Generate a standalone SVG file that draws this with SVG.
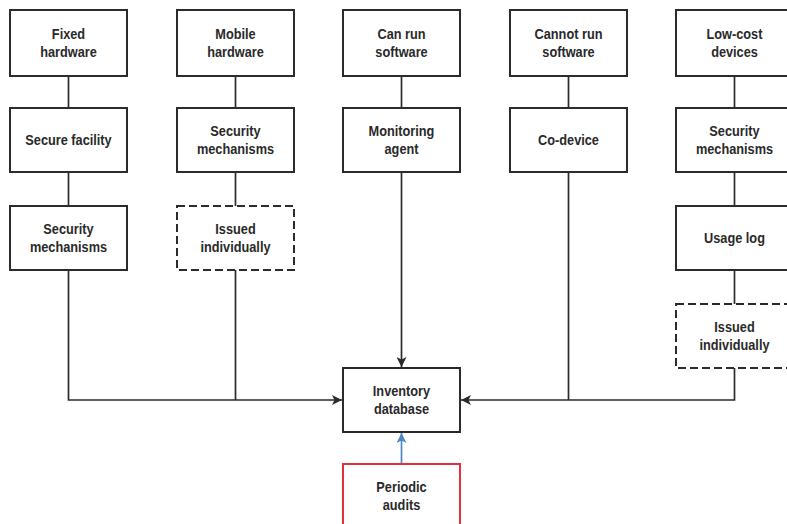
<svg xmlns="http://www.w3.org/2000/svg" width="787" height="524" viewBox="0 0 787 524">
<style>
.box{fill:#fff;stroke:#2b2b2b;stroke-width:2}
.dash{stroke-dasharray:8 4}
.red{stroke:#e0303c}
.t{font-family:"Liberation Sans",Arial,sans-serif;font-weight:bold;font-size:15px;fill:#2a2a2a;text-anchor:middle}
.c{fill:none;stroke:#2b2b2b;stroke-width:1.7}
.b{fill:none;stroke:#4a86c8;stroke-width:1.7}
</style>
<defs>
<marker id="ah" markerUnits="userSpaceOnUse" markerWidth="11" markerHeight="10" viewBox="0 0 11 10" refX="10" refY="5" orient="auto">
<path d="M0,0 L10,5 L0,10 L2.5,5 Z" fill="#2b2b2b"/>
</marker>
<marker id="ahb" markerUnits="userSpaceOnUse" markerWidth="11" markerHeight="10" viewBox="0 0 11 10" refX="10" refY="5" orient="auto">
<path d="M0,0 L10,5 L0,10 L2.5,5 Z" fill="#4a86c8"/>
</marker>
</defs>
<g id="connectors">
<path class="c" d="M68.5,76V108M68.5,172V206"/>
<path class="c" d="M68.5,270V400H342" marker-end="url(#ah)"/>
<path class="c" d="M235.5,76V108M235.5,172V206M235.5,270V400"/>
<path class="c" d="M401.5,76V108"/>
<path class="c" d="M401.5,172V367" marker-end="url(#ah)"/>
<path class="c" d="M568.5,76V108M568.5,172V400"/>
<path class="c" d="M734.5,76V108M734.5,172V206M734.5,270V304"/>
<path class="c" d="M734.5,368V400H461" marker-end="url(#ah)"/>
<path class="b" d="M401.5,464V433" marker-end="url(#ahb)"/>
</g>
<g id="fixed-hardware"><rect class="box" x="10" y="10" width="117" height="66"/><g transform="translate(68.5,0) scale(.85,1)"><text class="t" x="0" y="39">Fixed</text><text class="t" x="0" y="57">hardware</text></g></g>
<g id="secure-facility"><rect class="box" x="10" y="108" width="117" height="64"/><g transform="translate(68.5,0) scale(.85,1)"><text class="t" x="0" y="145">Secure facility</text></g></g>
<g id="security-mechanisms-1"><rect class="box" x="10" y="206" width="117" height="64"/><g transform="translate(68.5,0) scale(.85,1)"><text class="t" x="0" y="234">Security</text><text class="t" x="0" y="252">mechanisms</text></g></g>
<g id="mobile-hardware"><rect class="box" x="177" y="10" width="117" height="66"/><g transform="translate(235.5,0) scale(.85,1)"><text class="t" x="0" y="39">Mobile</text><text class="t" x="0" y="57">hardware</text></g></g>
<g id="security-mechanisms-2"><rect class="box" x="177" y="108" width="117" height="64"/><g transform="translate(235.5,0) scale(.85,1)"><text class="t" x="0" y="136">Security</text><text class="t" x="0" y="154">mechanisms</text></g></g>
<g id="issued-individually-1"><rect class="box dash" x="177" y="206" width="117" height="64"/><g transform="translate(235.5,0) scale(.85,1)"><text class="t" x="0" y="234">Issued</text><text class="t" x="0" y="252">individually</text></g></g>
<g id="can-run-software"><rect class="box" x="343" y="10" width="117" height="66"/><g transform="translate(401.5,0) scale(.85,1)"><text class="t" x="0" y="39">Can run</text><text class="t" x="0" y="57">software</text></g></g>
<g id="monitoring-agent"><rect class="box" x="343" y="108" width="117" height="64"/><g transform="translate(401.5,0) scale(.85,1)"><text class="t" x="0" y="136">Monitoring</text><text class="t" x="0" y="154">agent</text></g></g>
<g id="cannot-run-software"><rect class="box" x="510" y="10" width="117" height="66"/><g transform="translate(568.5,0) scale(.85,1)"><text class="t" x="0" y="39">Cannot run</text><text class="t" x="0" y="57">software</text></g></g>
<g id="co-device"><rect class="box" x="510" y="108" width="117" height="64"/><g transform="translate(568.5,0) scale(.85,1)"><text class="t" x="0" y="145">Co-device</text></g></g>
<g id="low-cost-devices"><rect class="box" x="676" y="10" width="117" height="66"/><g transform="translate(734.5,0) scale(.85,1)"><text class="t" x="0" y="39">Low-cost</text><text class="t" x="0" y="57">devices</text></g></g>
<g id="security-mechanisms-3"><rect class="box" x="676" y="108" width="117" height="64"/><g transform="translate(734.5,0) scale(.85,1)"><text class="t" x="0" y="136">Security</text><text class="t" x="0" y="154">mechanisms</text></g></g>
<g id="usage-log"><rect class="box" x="676" y="206" width="117" height="64"/><g transform="translate(734.5,0) scale(.85,1)"><text class="t" x="0" y="243">Usage log</text></g></g>
<g id="issued-individually-2"><rect class="box dash" x="676" y="304" width="117" height="64"/><g transform="translate(734.5,0) scale(.85,1)"><text class="t" x="0" y="332">Issued</text><text class="t" x="0" y="350">individually</text></g></g>
<g id="inventory-database"><rect class="box" x="343" y="368" width="117" height="64"/><g transform="translate(401.5,0) scale(.85,1)"><text class="t" x="0" y="396">Inventory</text><text class="t" x="0" y="414">database</text></g></g>
<g id="periodic-audits"><rect class="box red" x="343" y="464" width="117" height="66"/><g transform="translate(401.5,0) scale(.85,1)"><text class="t" x="0" y="492">Periodic</text><text class="t" x="0" y="510">audits</text></g></g>
</svg>
